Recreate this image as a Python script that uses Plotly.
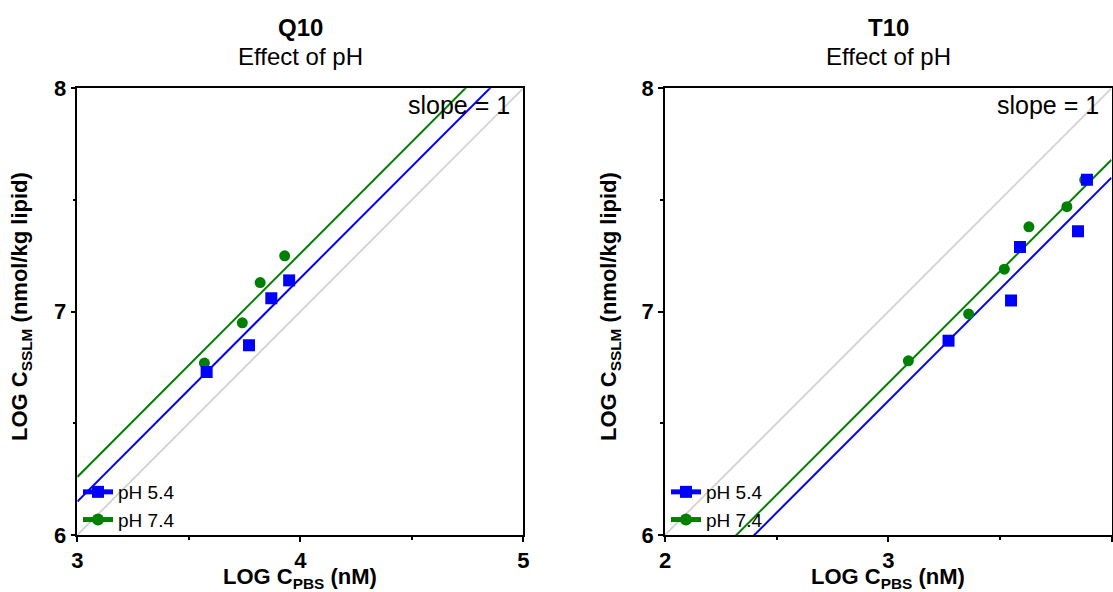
import plotly.graph_objects as go

W, H = 1113, 592

# ---- data ----
q10_ph54_x = [3.58, 3.77, 3.87, 3.95]
q10_ph54_y = [6.73, 6.85, 7.06, 7.14]
q10_ph74_x = [3.57, 3.74, 3.82, 3.93]
q10_ph74_y = [6.77, 6.95, 7.13, 7.25]
q10_fit_intercepts = {"pH 5.4": 3.15, "pH 7.4": 3.26}
q10_ref_intercept = 3.0

t10_ph54_x = [3.27, 3.55, 3.59, 3.85, 3.89]
t10_ph54_y = [6.87, 7.05, 7.29, 7.36, 7.59]
t10_ph74_x = [3.09, 3.36, 3.52, 3.63, 3.80, 3.88]
t10_ph74_y = [6.78, 6.99, 7.19, 7.38, 7.47, 7.59]
t10_fit_intercepts = {"pH 5.4": 3.60, "pH 7.4": 3.68}
t10_ref_intercept = 4.0

q10_xrange = [3, 5]
t10_xrange = [2, 4]
y_range = [6, 8]
x_title = "LOG C<sub>PBS</sub> (nM)"
y_title = "LOG C<sub>SSLM</sub> (nmol/kg lipid)"
panel_titles = ["Q10", "T10"]
subtitle = "Effect of pH"
series_names = ["pH 5.4", "pH 7.4"]

BLUE = "#0000FF"
GREEN = "#008000"
GREY = "#D0D0D0"
FONT = "Liberation Sans"

def px_x(p):
    return p / W

def px_y(p):
    return (H - p) / H

fig = go.Figure()

panels = [
    dict(xa="x", ya="y", xr=q10_xrange, ref=q10_ref_intercept, fits=q10_fit_intercepts,
         b_x=q10_ph54_x, b_y=q10_ph54_y, g_x=q10_ph74_x, g_y=q10_ph74_y, legend="legend"),
    dict(xa="x2", ya="y2", xr=t10_xrange, ref=t10_ref_intercept, fits=t10_fit_intercepts,
         b_x=t10_ph54_x, b_y=t10_ph54_y, g_x=t10_ph74_x, g_y=t10_ph74_y, legend="legend2"),
]

for p in panels:
    xr = p["xr"]
    fig.add_trace(go.Scatter(x=xr, y=[v + p["ref"] for v in xr], mode="lines",
                             line=dict(color=GREY, width=1.7), showlegend=False,
                             xaxis=p["xa"], yaxis=p["ya"], hoverinfo="skip"))
    for name, col in [("pH 7.4", GREEN), ("pH 5.4", BLUE)]:
        b = p["fits"][name]
        fig.add_trace(go.Scatter(x=xr, y=[v + b for v in xr], mode="lines",
                                 line=dict(color=col, width=2), showlegend=False,
                                 xaxis=p["xa"], yaxis=p["ya"]))
    fig.add_trace(go.Scatter(x=p["g_x"], y=p["g_y"], mode="markers",
                             marker=dict(symbol="circle", size=11, color=GREEN),
                             showlegend=False, xaxis=p["xa"], yaxis=p["ya"]))
    fig.add_trace(go.Scatter(x=p["b_x"], y=p["b_y"], mode="markers",
                             marker=dict(symbol="square", size=12, color=BLUE),
                             showlegend=False, xaxis=p["xa"], yaxis=p["ya"]))
    fig.add_trace(go.Scatter(x=[None], y=[None], mode="lines+markers", name=series_names[0],
                             marker=dict(symbol="square", size=12, color=BLUE),
                             line=dict(color=BLUE, width=2), legend=p["legend"],
                             xaxis=p["xa"], yaxis=p["ya"]))
    fig.add_trace(go.Scatter(x=[None], y=[None], mode="lines+markers", name=series_names[1],
                             marker=dict(symbol="circle", size=11, color=GREEN),
                             line=dict(color=GREEN, width=2), legend=p["legend"],
                             xaxis=p["xa"], yaxis=p["ya"]))

axis_common = dict(
    showgrid=False, zeroline=False, showline=True, linecolor="black", linewidth=1.5,
    mirror=True, ticks="outside", ticklen=5, tickwidth=1.5, tickcolor="black", dtick=1,
    automargin=False,
    tickfont=dict(family=FONT, size=22, color="black", weight="bold"),
    minor=dict(ticks="outside", ticklen=3, tickwidth=1.5, tickcolor="black", dtick=0.5),
)

left_dom = [px_x(77.3), px_x(523.3)]
right_dom = [px_x(665), px_x(1111.5)]
y_dom = [px_y(535), px_y(88.3)]

legend_common = dict(xanchor="left", yanchor="top", bgcolor="rgba(0,0,0,0)",
                     font=dict(family=FONT, size=19, color="black"),
                     tracegroupgap=0, itemsizing="constant")

fig.update_layout(
    width=W, height=H, margin=dict(l=0, r=0, t=0, b=0, autoexpand=False),
    paper_bgcolor="white", plot_bgcolor="white",
    xaxis=dict(domain=left_dom, range=q10_xrange, anchor="y", tick0=q10_xrange[0], **axis_common),
    yaxis=dict(domain=y_dom, range=y_range, anchor="x", tick0=6, **axis_common),
    xaxis2=dict(domain=right_dom, range=t10_xrange, anchor="y2", tick0=t10_xrange[0], **axis_common),
    yaxis2=dict(domain=y_dom, range=y_range, anchor="x2", tick0=6, **axis_common),
    legend=dict(x=px_x(78), y=px_y(473), **legend_common),
    legend2=dict(x=px_x(666), y=px_y(473), **legend_common),
    showlegend=True,
)

annotations = []
for dom, title, ax in [(left_dom, panel_titles[0], "x"), (right_dom, panel_titles[1], "x2")]:
    cx = (dom[0] + dom[1]) / 2
    annotations.append(dict(text=f"<b>{title}</b>", x=cx, y=px_y(27), xref="paper", yref="paper",
                            xanchor="center", yanchor="middle", showarrow=False,
                            font=dict(family=FONT, size=24, color="black")))
    annotations.append(dict(text=subtitle, x=cx, y=px_y(57), xref="paper", yref="paper",
                            xanchor="center", yanchor="middle", showarrow=False,
                            font=dict(family=FONT, size=24, color="black")))
    annotations.append(dict(text=f"<b>{x_title}</b>", x=cx, y=px_y(578), xref="paper", yref="paper",
                            xanchor="center", yanchor="middle", showarrow=False,
                            font=dict(family=FONT, size=22, color="black")))
    annotations.append(dict(text="slope = 1", x=1, y=1, xref=f"{ax} domain",
                            yref=("y domain" if ax == "x" else "y2 domain"),
                            xanchor="right", yanchor="middle", xshift=-11, yshift=-17,
                            showarrow=False, font=dict(family=FONT, size=25, color="black")))
for xc in [21, 610]:
    annotations.append(dict(text=f"<b>{y_title}</b>", x=px_x(xc), y=px_y(307), xref="paper",
                            yref="paper", xanchor="center", yanchor="middle", textangle=-90,
                            showarrow=False, font=dict(family=FONT, size=22, color="black")))
fig.update_layout(annotations=annotations)

fig.write_html("out.html")
